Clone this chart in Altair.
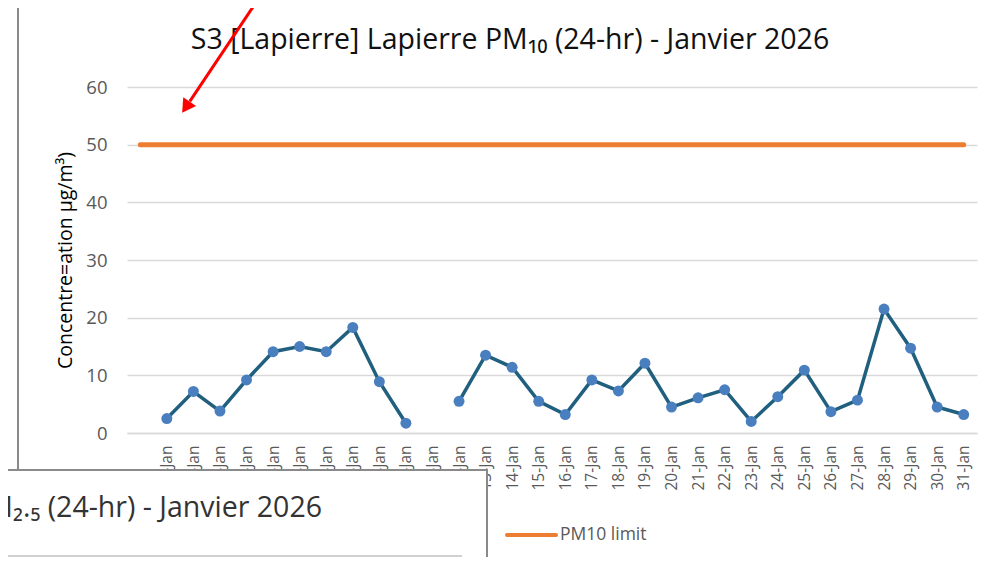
import altair as alt
import pandas as pd

# ---- data ----
days = list(range(1, 32))
pm10 = [2.5, 7.2, 3.8, 9.2, 14.1, 15.0, 14.1, 18.3, 8.9, 1.7, None, 5.5, 13.5,
        11.4, 5.5, 3.2, 9.2, 7.3, 12.1, 4.5, 6.1, 7.5, 2.0, 6.3, 10.9, 3.7,
        5.7, 21.5, 14.7, 4.5, 3.2]
limit_days = [0, 31]
limit_vals = [50, 50]
y_ticks = [0, 10, 20, 30, 40, 50, 60]

title_text = "S3 [Lapierre] Lapierre PM\u2081\u2080 (24-hr) - Janvier 2026"
y_title = "Concentre=ation \u00b5g/m\u00b3)"
legend_label = "PM10 limit"
overlay_text = "PM\u2082.\u2085 (24-hr) - Janvier 2026"

FONT = "Open Sans"
GRAY = "#595959"
GRID = "#d9d9d9"
ORANGE = "#ED7D31"
LINE = "#215F7F"
DOT = "#4A7FBF"

# segments so that the missing day breaks the line
seg = []
s = 0
prev_none = True
for v in pm10:
    if v is None:
        prev_none = True
        seg.append(None)
    else:
        if prev_none:
            s += 1
        prev_none = False
        seg.append(s)
df = pd.DataFrame({"day": days, "pm": pm10, "seg": seg}).dropna()
df_lim = pd.DataFrame({"day": limit_days, "pm": limit_vals})
one = pd.DataFrame({"k": [0]})

xscale = alt.Scale(domain=[-0.5, 31.5], nice=False, zero=False)
yscale = alt.Scale(domain=[0, 60], nice=False)

xaxis = alt.Axis(values=days, labelExpr="datum.value + '-Jan'", labelAngle=-90,
                 labelAlign="right", labelBaseline="middle", labelPadding=12,
                 ticks=False, grid=False, domainColor=GRID, domainWidth=1.5,
                 labelColor=GRAY, labelFontSize=15.5, labelFont=FONT,
                 labelOverlap=False, labelFlush=False, labelBound=False,
                 title=None, zindex=0)
yaxis = alt.Axis(values=y_ticks, grid=True, gridColor=GRID, gridWidth=1.5,
                 domain=False, ticks=False, labelPadding=20, labelFontSize=18.5,
                 labelColor=GRAY, labelFont=FONT, title=y_title,
                 titleFontSize=19.5, titleFont=FONT, titleColor="#000000",
                 titleFontWeight="normal", titleX=-62, titleY=173, titleAngle=270,
                 titleAlign="center", titleBaseline="middle", zindex=0)

X = alt.X("day:Q", scale=xscale, axis=xaxis)
Y = alt.Y("pm:Q", scale=yscale, axis=yaxis)

line = alt.Chart(df).mark_line(color=LINE, strokeWidth=3.5).encode(
    x=X, y=Y, detail="seg:N")
pts = alt.Chart(df).mark_circle(color=DOT, size=120, opacity=1).encode(x=X, y=Y)
lim = alt.Chart(df_lim).mark_line(color=ORANGE, strokeWidth=5, strokeCap="round").encode(
    x=X, y=Y)

title = alt.Chart(one).mark_text(text=title_text, font=FONT, fontSize=28.5,
                                 color="#111111", align="center", baseline="middle").encode(
    x=alt.value(383), y=alt.value(-47))

frame_left = alt.Chart(one).mark_rule(color="#8a8a8a", strokeWidth=2).encode(
    x=alt.value(-109), y=alt.value(-84), y2=alt.value(383))
frame_top = alt.Chart(one).mark_rule(color="#8a8a8a", strokeWidth=2).encode(
    x=alt.value(-109), x2=alt.value(870), y=alt.value(-84))

leg_line = alt.Chart(one).mark_rule(color=ORANGE, strokeWidth=4, strokeCap="round").encode(
    x=alt.value(380), x2=alt.value(429), y=alt.value(448))
leg_text = alt.Chart(one).mark_text(text=legend_label, font=FONT, fontSize=17.5, color=GRAY,
                                    align="left", baseline="middle").encode(
    x=alt.value(433), y=alt.value(448))

ov_rect = alt.Chart(one).mark_rect(fill="white", stroke="#8a8a8a", strokeWidth=2).encode(
    x=alt.value(-140), x2=alt.value(360), y=alt.value(383), y2=alt.value(490))
ov_text = alt.Chart(one).mark_text(text=overlay_text, font=FONT, fontSize=28.5, color="#333333",
                                   align="right", baseline="middle").encode(
    x=alt.value(195), y=alt.value(421))
ov_line = alt.Chart(one).mark_rule(color="#d0d0d0", strokeWidth=2).encode(
    x=alt.value(-140), x2=alt.value(335), y=alt.value(469))

arrow_line = alt.Chart(one).mark_rule(color="#ff0000", strokeWidth=3).encode(
    x=alt.value(142), y=alt.value(-104), x2=alt.value(62.8), y2=alt.value(14.4))
arrow_head = alt.Chart(one).mark_point(shape="triangle-down", filled=True, color="#ff0000",
                                       size=240, angle=34, opacity=1).encode(
    x=alt.value(58.9), y=alt.value(20.2))

chart = alt.layer(
    line, lim, pts, title, frame_left, frame_top, leg_line, leg_text,
    ov_rect, ov_text, ov_line, arrow_line, arrow_head
).properties(
    width=850, height=346,
    autosize=alt.AutoSizeParams(type="none"),
    padding={"left": 119, "top": 79, "right": 8, "bottom": 124},
    background="white",
).configure_view(stroke=None).configure_axisX(labelOverlap=False)

chart.save("out.html", embed_options={"renderer": "svg", "actions": False})
